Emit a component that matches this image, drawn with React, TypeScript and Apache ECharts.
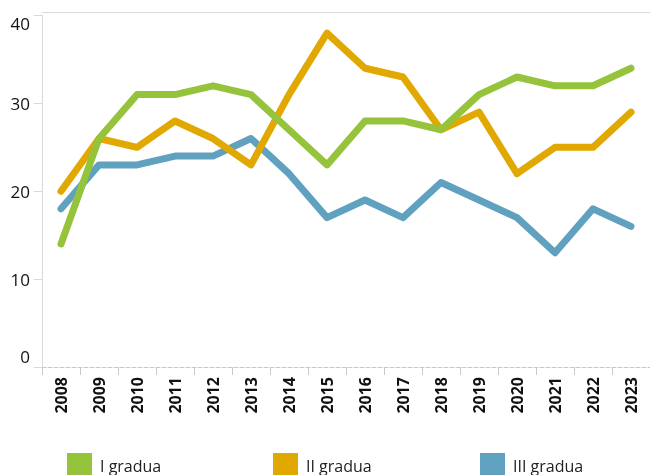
import React, { useEffect, useRef } from "react";
import * as echarts from "echarts";

const years = ["2008","2009","2010","2011","2012","2013","2014","2015","2016","2017","2018","2019","2020","2021","2022","2023"];
const gradeI = [14, 26, 31, 31, 32, 31, 27, 23, 28, 28, 27, 31, 33, 32, 32, 34];
const gradeII = [20, 26, 25, 28, 26, 23, 31, 38, 34, 33, 27, 29, 22, 25, 25, 29];
const gradeIII = [18, 23, 23, 24, 24, 26, 22, 17, 19, 17, 21, 19, 17, 13, 18, 16];
const seriesNames = ["I gradua", "II gradua", "III gradua"];
const colors = ["#96C33C", "#E0A800", "#60A1BF"];

const FONT = "'Open Sans', sans-serif";

export default function App() {
  const ref = useRef<HTMLDivElement>(null);
  useEffect(() => {
    if (!ref.current) return;
    const chart = echarts.init(ref.current, null, { renderer: "svg" });
    const mk = (name: string, data: number[], color: string, z: number) => ({
      name,
      type: "line",
      data,
      symbol: "none",
      z,
      lineStyle: { width: 7, color, cap: "round", join: "round" },
      itemStyle: { color },
    });
    chart.setOption({
      animation: false,
      grid: { left: 42, right: -11, top: 15.5, bottom: 108, containLabel: false },
      graphic: [
        {
          type: "line",
          shape: { x1: 42, y1: 12.5, x2: 650, y2: 12.5 },
          style: { stroke: "#D9D9D9", lineWidth: 1 },
          silent: true,
        },
      ],
      legend: [0, 1, 2].map((i) => ({
        data: [seriesNames[i]],
        left: [67, 273, 480][i],
        top: 453,
        padding: 0,
        itemWidth: 25,
        itemHeight: 25,
        icon: "rect",
        itemStyle: { color: colors[i] },
        textStyle: { fontFamily: FONT, fontSize: 16, color: "#222", padding: [0, 0, 0, 3] },
        selectedMode: false,
      })),
      xAxis: {
        type: "category",
        data: years,
        boundaryGap: true,
        axisLine: { show: true, lineStyle: { color: "#C8C8C8", type: "dashed", width: 1 } },
        axisTick: { show: true, length: 8, lineStyle: { color: "#C8C8C8" } },
        axisLabel: {
          rotate: 90,
          fontFamily: FONT,
          fontWeight: "bold",
          fontSize: 16,
          color: "#111",
          margin: 10,
          interval: 0,
        },
        splitLine: { show: false },
      },
      yAxis: {
        type: "value",
        min: 0,
        max: 40,
        interval: 10,
        axisLine: { show: true, lineStyle: { color: "#D9D9D9" } },
        axisTick: { show: true, length: 8, lineStyle: { color: "#D9D9D9" } },
        axisLabel: {
          fontFamily: FONT,
          fontSize: 17,
          color: "#111",
          margin: 12,
          formatter: (v: number) => (v === 40 ? "{top|40}" : v === 0 ? "{bot|0}" : String(v)),
          rich: {
            top: { fontFamily: FONT, fontSize: 17, color: "#111", padding: [16, 0, 0, 0] },
            bot: { fontFamily: FONT, fontSize: 17, color: "#111", padding: [0, 0, 22, 0] },
          },
        },
        splitLine: { show: false },
      },
      series: [
        mk(seriesNames[2], gradeIII, colors[2], 2),
        mk(seriesNames[1], gradeII, colors[1], 3),
        mk(seriesNames[0], gradeI, colors[0], 4),
      ],
    });
    return () => chart.dispose();
  }, []);
  return (
    <div
      ref={ref}
      style={{ position: "fixed", left: 0, top: 0, width: 650, height: 475 }}
    />
  );
}
